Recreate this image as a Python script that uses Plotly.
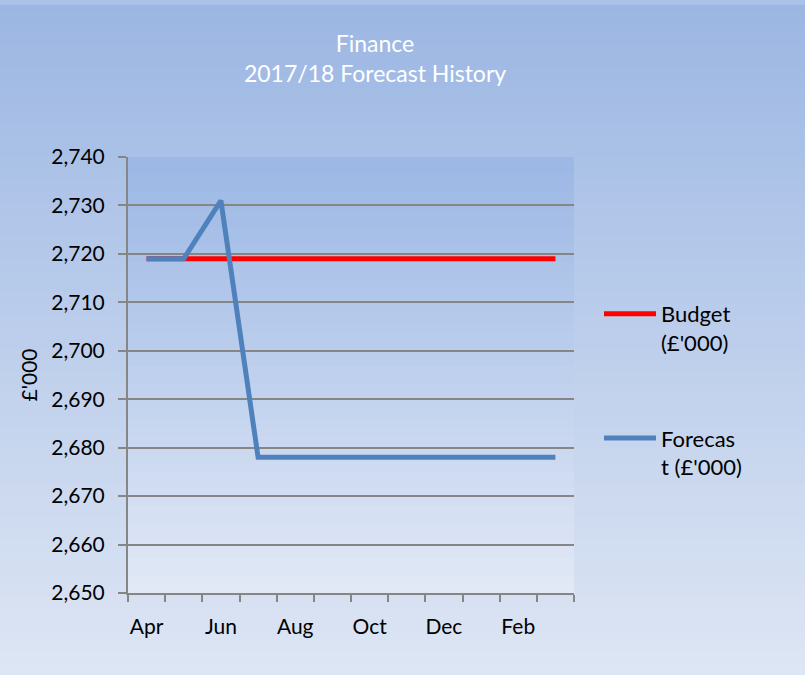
import plotly.graph_objects as go

months = ["Apr", "May", "Jun", "Jul", "Aug", "Sep", "Oct", "Nov", "Dec", "Jan", "Feb", "Mar"]
budget = [2719] * 12
forecast = [2719, 2719, 2731, 2678, 2678, 2678, 2678, 2678, 2678, 2678, 2678, 2678]
y_ticks = list(range(2650, 2741, 10))

W, H = 805, 675
L, R, T, B = 128, 231, 157, 82
PW, PH = W - L - R, H - T - B

x_idx = list(range(len(months)))

fig = go.Figure()
fig.add_trace(go.Scatter(
    x=x_idx, y=budget, mode="lines", name="Budget<br>(£'000)",
    line=dict(color="#FF0000", width=5), legendgroup="b",
))
fig.add_trace(go.Scatter(
    x=x_idx, y=forecast, mode="lines", name="Forecas<br>t (£'000)",
    line=dict(color="#4F81BD", width=5), legendgroup="f",
))


def lerp(c0, c1, f):
    return "rgb(%d,%d,%d)" % tuple(round(a + (b - a) * f) for a, b in zip(c0, c1))


def py2paper(py):
    return (H - B - py) / PH


shapes = []
# page background gradient
n = 60
top_c, bot_c = (155, 182, 227), (222, 230, 244)
for i in range(n):
    py0 = H * i / n
    py1 = H * (i + 1) / n + 1
    shapes.append(dict(
        type="rect", xref="paper", yref="paper", layer="below",
        x0=-L / PW, x1=(W - L) / PW,
        y0=py2paper(py1), y1=py2paper(py0),
        fillcolor=lerp(top_c, bot_c, (i + 0.5) / n), line=dict(width=0),
    ))
# light strip at the very top
shapes.append(dict(
    type="rect", xref="paper", yref="paper", layer="below",
    x0=-L / PW, x1=(W - L) / PW, y0=py2paper(5), y1=py2paper(-1),
    fillcolor="rgb(170,193,232)", line=dict(width=0),
))
# plot area gradient
m = 50
ptop, pbot = (155, 183, 228), (226, 233, 246)
for i in range(m):
    shapes.append(dict(
        type="rect", xref="paper", yref="paper", layer="below",
        x0=0, x1=1,
        y0=1 - (i + 1) / m - 0.002, y1=1 - i / m,
        fillcolor=lerp(ptop, pbot, (i + 0.5) / m), line=dict(width=0),
    ))

font = "Lato, 'Open Sans', sans-serif"
fig.update_layout(
    width=W, height=H,
    margin=dict(l=L, r=R, t=T, b=B),
    paper_bgcolor="#C4D3EE",
    plot_bgcolor="rgba(0,0,0,0)",
    shapes=shapes,
    font=dict(family=font, size=21, color="#000000"),
    title=dict(
        text="Finance<br>2017/18 Forecast History",
        x=375 / W, xref="container", xanchor="center",
        y=1 - 52 / H, yref="container", yanchor="middle",
        font=dict(family=font, size=23, color="#FFFFFF"),
    ),
    showlegend=True,
    legend=dict(
        x=599 / W, xref="container", xanchor="left",
        y=1 - 293 / H, yref="container", yanchor="top",
        bgcolor="rgba(0,0,0,0)", borderwidth=0,
        tracegroupgap=64, itemwidth=52, valign="top",
        font=dict(family=font, size=22, color="#000000"),
    ),
    xaxis=dict(
        range=[-0.5, len(months) - 0.5],
        tickmode="array", tickvals=x_idx[::2], ticktext=months[::2],
        ticks="", showgrid=False, zeroline=False,
        showline=True, linecolor="#868686", linewidth=2,
        ticklabelstandoff=14,
        minor=dict(tickmode="linear", tick0=-0.5, dtick=1, ticks="outside",
                   ticklen=7, tickwidth=2, tickcolor="#868686", showgrid=False),
    ),
    yaxis=dict(
        range=[2650, 2740], tickmode="array", tickvals=y_ticks,
        tickformat=",", ticks="outside", ticklen=8, tickwidth=2, tickcolor="#868686",
        showgrid=True, gridcolor="#868686", gridwidth=2, zeroline=False,
        showline=True, linecolor="#868686", linewidth=2,
        ticklabelstandoff=9,
        title=dict(text="£'000", standoff=8, font=dict(size=21)),
    ),
)

fig.write_html("out.html", post_script="document.body.style.margin='0';",
               config={"displayModeBar": False})
